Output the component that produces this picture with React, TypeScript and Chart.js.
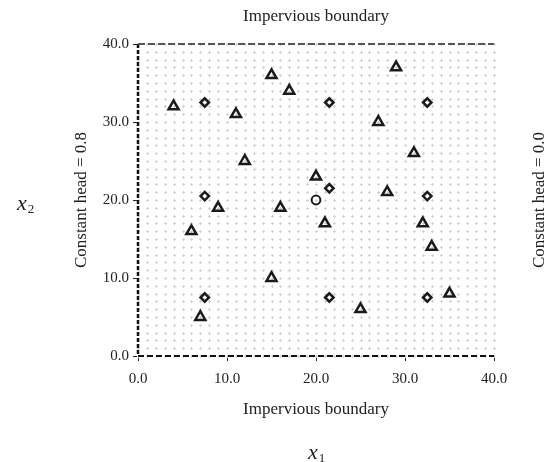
import React, { useEffect, useRef } from "react";
import { Chart, registerables } from "chart.js";

Chart.register(...registerables);

// ---- data ----
const xTickValues = [0, 10, 20, 30, 40];
const yTickValues = [0, 10, 20, 30, 40];
const wellX = [4, 15, 17, 11, 29, 27, 12, 31, 20, 9, 16, 28, 6, 21, 32, 33, 15, 7, 25, 35];
const wellY = [32, 36, 34, 31, 37, 30, 25, 26, 23, 19, 19, 21, 16, 17, 17, 14, 10, 5, 6, 8];
const pilotX = [7.5, 21.5, 32.5, 7.5, 21.5, 32.5, 7.5, 21.5, 32.5];
const pilotY = [32.5, 32.5, 32.5, 20.5, 21.5, 20.5, 7.5, 7.5, 7.5];
const pumpX = [20];
const pumpY = [20];
const topTitle = "Impervious boundary";
const bottomTitle = "Impervious boundary";
const leftTitle = "Constant head = 0.8";
const rightTitle = "Constant head = 0.0";
const xVarLabel = "x";
const xVarSub = "1";
const yVarLabel = "x";
const yVarSub = "2";

const SERIF = '"Liberation Serif", "Times New Roman", serif';
const INK = "#1a1a1a";

const toPoints = (xs: number[], ys: number[]) => xs.map((x, i) => ({ x, y: ys[i] }));

const decorPlugin = {
  id: "decor",
  beforeDatasetsDraw(chart: any) {
    const { ctx, scales } = chart;
    const xs = scales.x;
    const ys = scales.y;
    ctx.save();
    ctx.strokeStyle = "#d2d2d2";
    ctx.lineWidth = 1;
    ctx.beginPath();
    for (let i = 0; i <= 40; i++) {
      const px = Math.round(xs.getPixelForValue(i));
      for (let j = 0; j <= 40; j++) {
        const py = Math.round(ys.getPixelForValue(j));
        ctx.moveTo(px - 1, py + 0.5);
        ctx.lineTo(px + 2, py + 0.5);
        ctx.moveTo(px + 0.5, py - 1);
        ctx.lineTo(px + 0.5, py + 2);
      }
    }
    ctx.stroke();
    ctx.restore();
  },
  afterDatasetsDraw(chart: any) {
    const { ctx, chartArea: a } = chart;
    ctx.save();
    // left boundary (constant head)
    ctx.strokeStyle = "#111";
    ctx.lineWidth = 2.5;
    ctx.setLineDash([4, 2]);
    ctx.beginPath();
    ctx.moveTo(a.left, a.top);
    ctx.lineTo(a.left, a.bottom);
    ctx.stroke();
    // top boundary
    ctx.strokeStyle = "#555";
    ctx.lineWidth = 2;
    ctx.setLineDash([7, 3]);
    ctx.beginPath();
    ctx.moveTo(a.left, a.top);
    ctx.lineTo(a.right, a.top);
    ctx.stroke();
    // bottom boundary
    ctx.strokeStyle = "#111";
    ctx.lineWidth = 2;
    ctx.setLineDash([6, 3]);
    ctx.beginPath();
    ctx.moveTo(a.left, a.bottom);
    ctx.lineTo(a.right, a.bottom);
    ctx.stroke();
    ctx.setLineDash([]);

    const cx = (a.left + a.right) / 2;
    const cy = (a.top + a.bottom) / 2;
    ctx.fillStyle = "#222";
    ctx.textAlign = "center";
    ctx.textBaseline = "middle";
    ctx.font = `17px ${SERIF}`;
    ctx.fillText(topTitle, cx, 17);
    ctx.fillText(bottomTitle, cx, 410);

    // x1
    ctx.font = `italic 22px ${SERIF}`;
    ctx.fillText(xVarLabel, cx - 3, 453);
    ctx.font = `13px ${SERIF}`;
    ctx.fillText(xVarSub, cx + 6, 459);

    // x2
    ctx.font = `italic 22px ${SERIF}`;
    ctx.fillText(yVarLabel, 22, 204);
    ctx.font = `13px ${SERIF}`;
    ctx.fillText(yVarSub, 31, 210);

    // rotated side labels
    ctx.font = `17px ${SERIF}`;
    ctx.save();
    ctx.translate(82, cy);
    ctx.rotate(-Math.PI / 2);
    ctx.fillText(leftTitle, 0, 0);
    ctx.restore();
    ctx.save();
    ctx.translate(540, cy);
    ctx.rotate(-Math.PI / 2);
    ctx.fillText(rightTitle, 0, 0);
    ctx.restore();
    ctx.restore();
  },
};

export default function App() {
  const ref = useRef<HTMLCanvasElement | null>(null);
  useEffect(() => {
    if (!ref.current) return;
    const chart = new Chart(ref.current, {
      type: "scatter",
      data: {
        datasets: [
          {
            label: "wells",
            data: toPoints(wellX, wellY),
            pointStyle: "triangle",
            pointRadius: 5.8,
            pointBorderWidth: 2.5,
            pointBorderColor: INK,
            pointBackgroundColor: "rgba(0,0,0,0)",
          },
          {
            label: "pilot",
            data: toPoints(pilotX, pilotY),
            pointStyle: "rectRot",
            pointRadius: 4.2,
            pointBorderWidth: 2.5,
            pointBorderColor: INK,
            pointBackgroundColor: "rgba(0,0,0,0)",
          },
          {
            label: "pump",
            data: toPoints(pumpX, pumpY),
            pointStyle: "circle",
            pointRadius: 4.4,
            pointBorderWidth: 2,
            pointBorderColor: INK,
            pointBackgroundColor: "rgba(0,0,0,0)",
          },
        ],
      },
      options: {
        responsive: false,
        animation: false,
        events: [],
        layout: { padding: { left: 0, right: 66, top: 44, bottom: 0 } },
        plugins: { legend: { display: false }, tooltip: { enabled: false }, title: { display: false } },
        scales: {
          x: {
            type: "linear",
            min: 0,
            max: 40,
            afterBuildTicks: (s: any) => {
              s.ticks = xTickValues.map((v) => ({ value: v }));
            },
            afterFit: (s: any) => {
              s.height = 106;
            },
            ticks: {
              callback: (v: any) => Number(v).toFixed(1),
              font: { family: SERIF, size: 15 },
              color: "#222",
              padding: 9,
              maxRotation: 0,
            },
            grid: { drawOnChartArea: false, drawTicks: true, tickLength: 5, tickColor: "#222", lineWidth: 1 },
            border: { display: false },
          },
          y: {
            type: "linear",
            min: 0,
            max: 40,
            afterBuildTicks: (s: any) => {
              s.ticks = yTickValues.map((v) => ({ value: v }));
            },
            afterFit: (s: any) => {
              s.width = 138;
            },
            ticks: {
              callback: (v: any) => Number(v).toFixed(1),
              font: { family: SERIF, size: 15 },
              color: "#222",
              padding: 4,
            },
            grid: { drawOnChartArea: false, drawTicks: true, tickLength: 5, tickColor: "#222", lineWidth: 1 },
            border: { display: false },
          },
        },
      },
      plugins: [decorPlugin],
    });
    return () => chart.destroy();
  }, []);
  return (
    <div style={{ position: "fixed", left: 0, top: 0, width: 560, height: 462, background: "#fff" }}>
      <canvas ref={ref} width={560} height={462} style={{ width: 560, height: 462, display: "block" }} />
    </div>
  );
}
